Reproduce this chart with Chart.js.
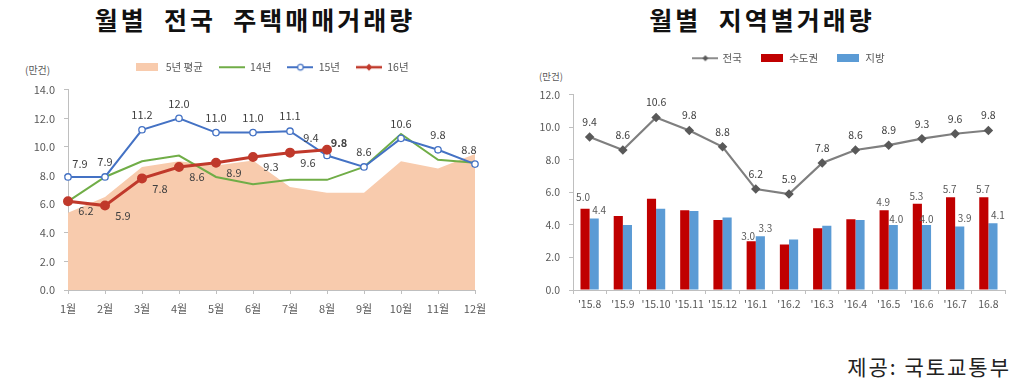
<!DOCTYPE html>
<html>
<head>
<meta charset="utf-8">
<script src="https://cdn.jsdelivr.net/npm/chart.js@4.4.0/dist/chart.umd.min.js"></script>
<style>
  body { margin: 0; background: #fff; width: 1024px; height: 388px; position: relative; overflow: hidden;
         font-family: 'Noto Sans CJK KR', sans-serif; }
  .title { position: absolute; top: 1px; font-size: 25px; line-height: 36px; font-weight: bold; color: #111;
           letter-spacing: 3px; text-align: center; white-space: pre; }
  .unit { position: absolute; font-size: 10px; line-height: 14px; color: #595959; }
  .source { position: absolute; right: 13px; top: 351px; font-size: 21px; line-height: 30px; color: #222;
            letter-spacing: 2px; white-space: pre; }
  canvas { position: absolute; top: 0; }
</style>
</head>
<body>
<div class="title" style="left:0;width:510px">월별  전국  주택매매거래량</div>
<div class="title" style="left:512px;width:500px">월별  지역별거래량</div>
<div class="unit" style="left:25px;top:63px">(만건)</div>
<div class="unit" style="left:539px;top:69px;font-size:9.5px">(만건)</div>
<div class="source">제공: 국토교통부</div>
<canvas id="monthly" width="512" height="330" style="left:0"></canvas>
<canvas id="region" width="512" height="330" style="left:512px"></canvas>
<script>
// left chart: national monthly sales (10k cases)
const months = ['1월', '2월', '3월', '4월', '5월', '6월', '7월', '8월', '9월', '10월', '11월', '12월']
const avg5y = [5.4, 6.5, 8.6, 9.0, 8.7, 9.05, 7.2, 6.8, 6.8, 9.0, 8.5, 9.5]
const y2014 = [6.2, 7.9, 9.0, 9.4, 7.9, 7.4, 7.7, 7.7, 8.6, 10.9, 9.1, 8.9]
const y2015 = [7.9, 7.9, 11.2, 12.0, 11.0, 11.0, 11.1, 9.4, 8.6, 10.6, 9.8, 8.8]
const y2016 = [6.2, 5.9, 7.8, 8.6, 8.9, 9.3, 9.6, 9.8]

// right chart: by region
const periods = ["'15.8", "'15.9", "'15.10", "'15.11", "'15.12", "'16.1", "'16.2", "'16.3", "'16.4", "'16.5", "'16.6", "'16.7", "16.8"]
const nationwide = [9.4, 8.6, 10.6, 9.8, 8.8, 6.2, 5.9, 7.8, 8.6, 8.9, 9.3, 9.6, 9.8]
const capital = [5.0, 4.55, 5.6, 4.9, 4.3, 3.0, 2.8, 3.8, 4.35, 4.9, 5.3, 5.7, 5.7]
const province = [4.4, 4.0, 5.0, 4.85, 4.45, 3.3, 3.1, 3.95, 4.3, 4.0, 4.0, 3.9, 4.1]
const barLabelAt = [0, 5, 9, 10, 11, 12]

const FONT = "'Noto Sans CJK KR', sans-serif"
const TICK = '#595959'
const AXIS = '#BFBFBF'

// little canvases used as legend symbols
function icon(w, h, draw) {
  const c = document.createElement('canvas')
  c.width = w; c.height = h
  draw(c.getContext('2d'), w, h)
  return c
}
function lineIcon(color, width, marker) {
  return icon(26, 10, (g, w, h) => {
    g.strokeStyle = color; g.lineWidth = width
    g.beginPath(); g.moveTo(0, h / 2); g.lineTo(w, h / 2); g.stroke()
    if (marker) marker(g, w / 2, h / 2)
  })
}
function boxIcon(color) {
  return icon(22, 8, (g, w, h) => { g.fillStyle = color; g.fillRect(0, 0, w, h) })
}

// draws the value labels given on each dataset
const valueLabels = {
  id: 'valueLabels',
  afterDatasetsDraw(chart) {
    const ctx = chart.ctx
    chart.data.datasets.forEach((ds, i) => {
      const cfg = ds.valueLabel
      if (!cfg) return
      chart.getDatasetMeta(i).data.forEach((el, j) => {
        const v = ds.data[j]
        if (v == null || (cfg.only && !cfg.only.includes(j))) return
        const off = (cfg.shift && cfg.shift[j]) || cfg.offset
        ctx.save()
        ctx.font = ((cfg.bold && cfg.bold.includes(j)) ? 'bold ' : '') + cfg.size + 'px ' + FONT
        ctx.fillStyle = cfg.color
        ctx.textAlign = 'center'
        ctx.textBaseline = 'middle'
        ctx.fillText(v.toFixed(1), el.x + off[0], el.y + off[1])
        ctx.restore()
      })
    })
  }
}

function legendFrom(items) {
  return () => items.map(it => ({
    text: it.text, pointStyle: it.icon, fillStyle: 'transparent', strokeStyle: 'transparent',
    lineWidth: 0, hidden: false, datasetIndex: it.ds, fontColor: TICK
  }))
}

const monthlyChart = new Chart(document.getElementById('monthly'), {
  type: 'line',
  data: {
    labels: months,
    datasets: [
      {
        label: '16년', data: y2016, order: 1,
        borderColor: '#C0392B', borderWidth: 3, backgroundColor: '#C0392B',
        pointRadius: 3.5, pointBackgroundColor: '#C0392B', pointBorderColor: '#C0392B',
        valueLabel: { size: 11, color: '#404040', offset: [18, 10], shift: { 7: [12, -7] }, bold: [7] }
      },
      {
        label: '15년', data: y2015, order: 2,
        borderColor: '#4472C4', borderWidth: 2, backgroundColor: '#fff',
        pointRadius: 3.2, pointBackgroundColor: '#fff', pointBorderColor: '#4472C4', pointBorderWidth: 1.3,
        valueLabel: { size: 11, color: '#404040', offset: [0, -15], shift: { 0: [12, -13], 7: [-16, -18], 11: [-6, -14] } }
      },
      {
        label: '14년', data: y2014, order: 3,
        borderColor: '#70AD47', borderWidth: 2, pointRadius: 0
      },
      {
        label: '5년 평균', data: avg5y, order: 10,
        borderWidth: 0, pointRadius: 0, fill: 'origin', backgroundColor: '#F8CBAD'
      }
    ]
  },
  options: {
    responsive: false,
    animation: false,
    events: [],
    layout: { padding: { top: 46, left: 0, right: 37, bottom: 10 } },
    elements: { line: { tension: 0 } },
    scales: {
      x: {
        grid: { drawOnChartArea: false, drawTicks: true, tickLength: 4, color: AXIS },
        border: { color: AXIS },
        ticks: { color: TICK, font: { family: FONT, size: 11 }, padding: 8, maxRotation: 0, autoSkip: false },
        afterFit: s => { s.height = 30 }
      },
      y: {
        min: 0, max: 14,
        grid: { drawOnChartArea: false, drawTicks: true, tickLength: 4, color: AXIS },
        border: { color: AXIS },
        ticks: { stepSize: 2, color: TICK, font: { family: FONT, size: 11 }, padding: 9, callback: v => v.toFixed(1) },
        afterFit: s => { s.width = 68 }
      }
    },
    plugins: {
      tooltip: { enabled: false },
      title: { display: true, text: '', weight: 500, font: { size: 1 }, padding: { top: 0, bottom: 6 } },
      legend: {
        position: 'top',
        fullSize: false,
        labels: {
          usePointStyle: true, pointStyleWidth: 26, padding: 16,
          color: TICK, font: { family: FONT, size: 10.5 },
          generateLabels: legendFrom([
            { text: '5년 평균', ds: 3, icon: boxIcon('#F8CBAD') },
            { text: '14년', ds: 2, icon: lineIcon('#70AD47', 2) },
            { text: '15년', ds: 1, icon: lineIcon('#4472C4', 2, (g, x, y) => {
                g.fillStyle = '#fff'; g.lineWidth = 1.2; g.beginPath(); g.arc(x, y, 2.8, 0, Math.PI * 2); g.fill(); g.stroke()
              }) },
            { text: '16년', ds: 0, icon: lineIcon('#C0392B', 2.5, (g, x, y) => {
                g.fillStyle = '#C0392B'; g.beginPath(); g.moveTo(x, y - 3.5); g.lineTo(x + 3.5, y); g.lineTo(x, y + 3.5); g.lineTo(x - 3.5, y); g.closePath(); g.fill()
              }) }
          ])
        }
      }
    }
  },
  plugins: [valueLabels]
})

const regionChart = new Chart(document.getElementById('region'), {
  type: 'bar',
  data: {
    labels: periods,
    datasets: [
      {
        type: 'line', label: '전국', data: nationwide, order: 0,
        borderColor: '#7F7F7F', borderWidth: 2.2, backgroundColor: '#595959',
        pointStyle: 'rectRot', pointRadius: 3.2, pointBackgroundColor: '#595959', pointBorderColor: '#595959',
        valueLabel: { size: 10.5, color: '#404040', offset: [0, -15] }
      },
      {
        label: '수도권', data: capital, order: 1, backgroundColor: '#C00000',
        categoryPercentage: 0.55, barPercentage: 1,
        valueLabel: { size: 10, color: '#595959', offset: [-1, -8], only: barLabelAt, shift: { 0: [-2, -11], 5: [-3, -5] } }
      },
      {
        label: '지방', data: province, order: 1, backgroundColor: '#5B9BD5',
        categoryPercentage: 0.55, barPercentage: 1,
        valueLabel: { size: 10, color: '#595959', offset: [5, -8], only: barLabelAt, shift: { 9: [3, -6], 10: [0, -6] } }
      }
    ]
  },
  options: {
    responsive: false,
    animation: false,
    events: [],
    layout: { padding: { top: 35, left: 0, right: 19, bottom: 10 } },
    elements: { line: { tension: 0 } },
    scales: {
      x: {
        grid: { drawOnChartArea: false, drawTicks: true, tickLength: 4, color: AXIS },
        border: { color: AXIS },
        ticks: { color: TICK, font: { family: FONT, size: 10.5 }, padding: 4, maxRotation: 0, autoSkip: false },
        afterFit: s => { s.height = 30 }
      },
      y: {
        min: 0, max: 12,
        grid: { drawOnChartArea: false, drawTicks: true, tickLength: 4, color: AXIS },
        border: { color: AXIS },
        ticks: { stepSize: 2, color: TICK, font: { family: FONT, size: 10.5 }, padding: 9, callback: v => v.toFixed(1) },
        afterFit: s => { s.width = 61 }
      }
    },
    plugins: {
      tooltip: { enabled: false },
      title: { display: true, text: '', weight: 500, font: { size: 1 }, padding: { top: 0, bottom: 20 } },
      legend: {
        position: 'top',
        fullSize: false,
        labels: {
          usePointStyle: true, pointStyleWidth: 24, padding: 18,
          color: TICK, font: { family: FONT, size: 10.5 },
          generateLabels: legendFrom([
            { text: '전국', ds: 0, icon: lineIcon('#7F7F7F', 1.8, (g, x, y) => {
                g.fillStyle = '#595959'; g.beginPath(); g.moveTo(x, y - 3); g.lineTo(x + 3, y); g.lineTo(x, y + 3); g.lineTo(x - 3, y); g.closePath(); g.fill()
              }) },
            { text: '수도권', ds: 1, icon: boxIcon('#C00000') },
            { text: '지방', ds: 2, icon: boxIcon('#5B9BD5') }
          ])
        }
      }
    }
  },
  plugins: [valueLabels]
})
</script>
</body>
</html>
